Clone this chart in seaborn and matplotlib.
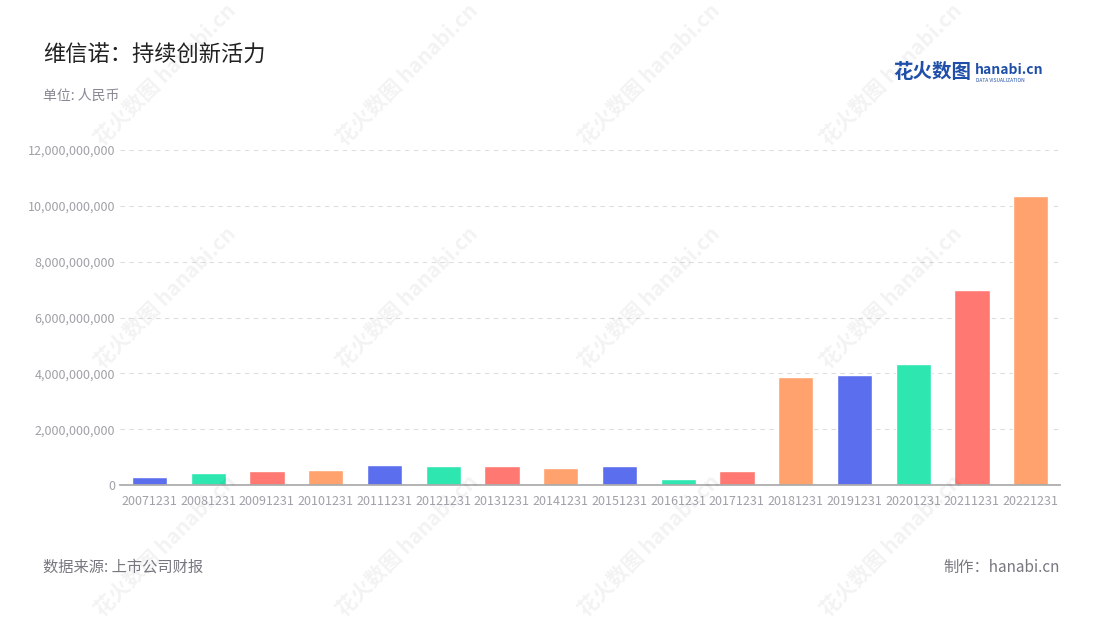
import matplotlib
matplotlib.use("Agg")
import matplotlib.pyplot as plt
import seaborn as sns
import pandas as pd
from matplotlib.ticker import FuncFormatter

years = ["20071231", "20081231", "20091231", "20101231", "20111231", "20121231",
         "20131231", "20141231", "20151231", "20161231", "20171231", "20181231",
         "20191231", "20201231", "20211231", "20221231"]
rd_spend = [0.29e9, 0.43e9, 0.50e9, 0.54e9, 0.72e9, 0.68e9, 0.68e9, 0.60e9,
            0.67e9, 0.22e9, 0.50e9, 3.87e9, 3.94e9, 4.34e9, 6.99e9, 10.36e9]
palette = ["#5B6FEE", "#2EE6B0", "#FF7872", "#FFA26E"]

sns.set_theme(style="white")
plt.rcParams['font.family'] = ['Noto Sans CJK SC', 'DejaVu Sans']

df = pd.DataFrame({"year": years, "value": rd_spend})
colors = [palette[i % 4] for i in range(len(years))]

fig = plt.figure(figsize=(11, 6.2), dpi=100)
ax = fig.add_axes([120 / 1100, 1 - 485 / 620, 940 / 1100, 335 / 620])
sns.barplot(data=df, x="year", y="value", hue="year", palette=colors,
            legend=False, width=0.6, ax=ax, saturation=1)

ax.set_ylim(0, 12e9)
ax.set_yticks([i * 2e9 for i in range(7)])
ax.yaxis.set_major_formatter(FuncFormatter(lambda v, p: f"{int(v):,}"))
ax.grid(axis="y", color="#dddddd", linestyle=(0, (4, 4)), linewidth=0.8)
ax.set_axisbelow(True)
for s in ["top", "right", "left"]:
    ax.spines[s].set_visible(False)
ax.spines["bottom"].set_color("#aaaaaa")
ax.tick_params(axis="both", labelsize=9, colors="#a0a0a8", length=0)
ax.tick_params(axis="x", length=4, color="#aaaaaa")
ax.set_xlabel("")
ax.set_ylabel("")

# faint watermarks
for wx in [0.15, 0.37, 0.59, 0.81]:
    for wy in [0.12, 0.52, 0.88]:
        fig.text(wx, wy, "花火数图 hanabi.cn", rotation=45, fontsize=15,
                 color="#000000", alpha=0.05, ha="center", va="center",
                 fontweight="bold")

fig.text(43 / 1100, 1 - 55 / 620, "维信诺：持续创新活力", fontsize=16,
         color="#222222", va="center")
fig.text(43 / 1100, 1 - 96 / 620, "单位: 人民币", fontsize=10,
         color="#888894", va="center")
fig.text(43 / 1100, 1 - 567 / 620, "数据来源: 上市公司财报", fontsize=11,
         color="#777780", va="center")
fig.text(1060 / 1100, 1 - 567 / 620, "制作：hanabi.cn", fontsize=11,
         color="#777780", va="center", ha="right")
fig.text(893 / 1100, 1 - 73 / 620, "花火数图", fontsize=14, color="#1F4FA8",
         fontweight="bold", va="center")
fig.text(975 / 1100, 1 - 70 / 620, "hanabi.cn", fontsize=10, color="#1F4FA8",
         fontweight="bold", va="center")
fig.text(976 / 1100, 1 - 80 / 620, "DATA VISUALIZATION", fontsize=3.5,
         color="#1F4FA8", va="center")

fig.savefig("out.png", dpi=100)
